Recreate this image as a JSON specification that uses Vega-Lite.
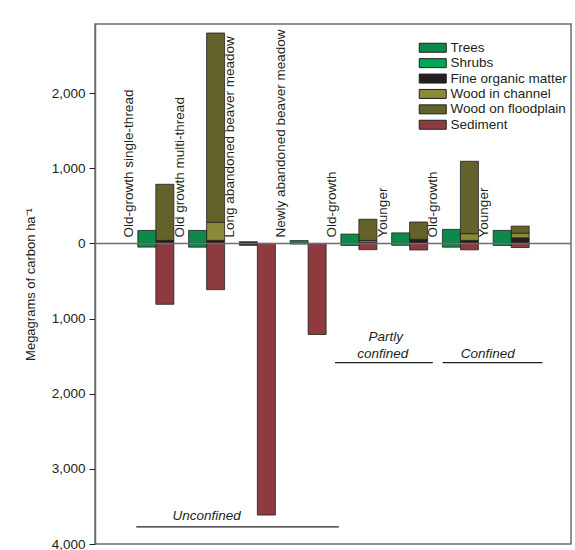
{
  "$schema": "https://vega.github.io/schema/vega-lite/v6.json",
  "width": 476,
  "height": 520,
  "autosize": "none",
  "padding": {"left": 95, "top": 24, "right": 4, "bottom": 6},
  "background": "white",
  "config": {
    "font": "Liberation Sans",
    "view": {"stroke": "#6d6e71", "strokeWidth": 1.5},
    "text": {"color": "#231f20"}
  },
  "datasets": {
    "bars": [
      {"site": 1, "bar": "A", "component": "Trees", "value": 173},
      {"site": 1, "bar": "A", "component": "Trees", "value": -49},
      {"site": 1, "bar": "B", "component": "Fine organic matter", "value": 40},
      {"site": 1, "bar": "B", "component": "Wood on floodplain", "value": 747},
      {"site": 1, "bar": "B", "component": "Sediment", "value": -810},
      {"site": 2, "bar": "A", "component": "Trees", "value": 173},
      {"site": 2, "bar": "A", "component": "Trees", "value": -50},
      {"site": 2, "bar": "B", "component": "Fine organic matter", "value": 40},
      {"site": 2, "bar": "B", "component": "Wood in channel", "value": 240},
      {"site": 2, "bar": "B", "component": "Wood on floodplain", "value": 2520},
      {"site": 2, "bar": "B", "component": "Sediment", "value": -615},
      {"site": 3, "bar": "A", "component": "Fine organic matter", "value": 22},
      {"site": 3, "bar": "A", "component": "Fine organic matter", "value": -25},
      {"site": 3, "bar": "B", "component": "Sediment", "value": -3615},
      {"site": 4, "bar": "A", "component": "Trees", "value": 38},
      {"site": 4, "bar": "A", "component": "Trees", "value": -8},
      {"site": 4, "bar": "B", "component": "Sediment", "value": -1212},
      {"site": 5, "bar": "A", "component": "Trees", "value": 124},
      {"site": 5, "bar": "A", "component": "Trees", "value": -27},
      {"site": 5, "bar": "B", "component": "Fine organic matter", "value": 15},
      {"site": 5, "bar": "B", "component": "Wood in channel", "value": 25},
      {"site": 5, "bar": "B", "component": "Wood on floodplain", "value": 282},
      {"site": 5, "bar": "B", "component": "Sediment", "value": -83},
      {"site": 6, "bar": "A", "component": "Trees", "value": 140},
      {"site": 6, "bar": "A", "component": "Trees", "value": -25},
      {"site": 6, "bar": "B", "component": "Fine organic matter", "value": 55},
      {"site": 6, "bar": "B", "component": "Wood on floodplain", "value": 230},
      {"site": 6, "bar": "B", "component": "Sediment", "value": -87},
      {"site": 7, "bar": "A", "component": "Trees", "value": 187},
      {"site": 7, "bar": "A", "component": "Trees", "value": -50},
      {"site": 7, "bar": "B", "component": "Fine organic matter", "value": 40},
      {"site": 7, "bar": "B", "component": "Wood in channel", "value": 90},
      {"site": 7, "bar": "B", "component": "Wood on floodplain", "value": 963},
      {"site": 7, "bar": "B", "component": "Sediment", "value": -85},
      {"site": 8, "bar": "A", "component": "Trees", "value": 173},
      {"site": 8, "bar": "A", "component": "Trees", "value": -27},
      {"site": 8, "bar": "B", "component": "Fine organic matter", "value": 75},
      {"site": 8, "bar": "B", "component": "Wood in channel", "value": 62},
      {"site": 8, "bar": "B", "component": "Wood on floodplain", "value": 93},
      {"site": 8, "bar": "B", "component": "Sediment", "value": -55}
    ],
    "labels": [
      {"site": 1, "label": "Old-growth single-thread"},
      {"site": 2, "label": "Old growth multi-thread"},
      {"site": 3, "label": "Long abandoned beaver meadow"},
      {"site": 4, "label": "Newly abandoned beaver meadow"},
      {"site": 5, "label": "Old-growth"},
      {"site": 6, "label": "Younger"},
      {"site": 7, "label": "Old-growth"},
      {"site": 8, "label": "Younger"}
    ],
    "groups": [
      {"x": 2.0, "y": -3627, "text": "Unconfined"},
      {"x": 5.53, "y": -1240, "text": "Partly"},
      {"x": 5.47, "y": -1467, "text": "confined"},
      {"x": 7.54, "y": -1467, "text": "Confined"}
    ],
    "lines": [
      {"x": 0.614, "x2": 4.606, "y": -3773},
      {"x": 4.529, "x2": 6.457, "y": -1587},
      {"x": 6.65, "x2": 8.617, "y": -1587}
    ]
  },
  "layer": [
    {
      "data": {"name": "bars"},
      "transform": [{"filter": "datum.bar == 'B'"}],
      "mark": {"type": "bar", "size": 18, "xOffset": 9, "stroke": "#231f20", "strokeWidth": 0.8},
      "encoding": {
        "x": {"field": "site", "type": "quantitative", "scale": {"domain": [-0.1, 9.08], "nice": false, "zero": false}, "axis": null},
        "y": {
          "field": "value", "type": "quantitative", "stack": "zero",
          "scale": {"domain": [-4000, 2920], "nice": false},
          "axis": {
            "values": [-4000, -3000, -2000, -1000, 0, 1000, 2000],
            "labelExpr": "format(abs(datum.value), ',')",
            "title": "Megagrams of carbon ha⁻¹",
            "grid": false,
            "tickSize": 6,
            "tickColor": "#231f20",
            "domainColor": "#6d6e71",
            "domainWidth": 1.5,
            "labelFontSize": 13.5,
            "labelColor": "#231f20",
            "labelPadding": 4,
            "titleFontSize": 13,
            "titleFontWeight": "normal",
            "titleColor": "#231f20",
            "titlePadding": 14
          }
        },
        "order": {"field": "component", "type": "nominal", "sort": "ascending"},
        "color": {
          "field": "component", "type": "nominal",
          "scale": {
            "domain": ["Trees", "Shrubs", "Fine organic matter", "Wood in channel", "Wood on floodplain", "Sediment"],
            "range": ["#0b8a4b", "#00a651", "#231f20", "#8a8a38", "#64622b", "#8e3b3f"]
          },
          "legend": {
            "orient": "none",
            "legendX": 331,
            "legendY": 17,
            "padding": 0,
            "title": null,
            "symbolType": "M-3,-1H3V1H-3Z",
            "symbolSize": 81,
            "symbolStrokeColor": "#231f20",
            "symbolStrokeWidth": 1,
            "symbolOpacity": 1,
            "labelOffset": 11,
            "labelFontSize": 13.5,
            "labelColor": "#231f20",
            "rowPadding": 0.4
          }
        }
      }
    },
    {
      "data": {"name": "bars"},
      "transform": [{"filter": "datum.bar == 'A'"}],
      "mark": {"type": "bar", "size": 18, "xOffset": -9, "stroke": "#231f20", "strokeWidth": 0.8},
      "encoding": {
        "x": {"field": "site", "type": "quantitative"},
        "y": {"field": "value", "type": "quantitative", "stack": "zero"},
        "color": {"field": "component", "type": "nominal"}
      }
    },
    {
      "data": {"values": [{}]},
      "mark": {"type": "rule", "color": "#6d6e71", "strokeWidth": 1.5},
      "encoding": {"y": {"datum": 0}}
    },
    {
      "data": {"name": "labels"},
      "mark": {"type": "text", "angle": 270, "align": "left", "baseline": "middle", "dx": 6, "dy": -27, "fontSize": 13.5, "color": "#231f20"},
      "encoding": {
        "x": {"field": "site", "type": "quantitative"},
        "y": {"datum": 0},
        "text": {"field": "label"}
      }
    },
    {
      "data": {"name": "groups"},
      "mark": {"type": "text", "fontStyle": "italic", "fontSize": 13.5, "align": "center", "baseline": "middle", "color": "#231f20"},
      "encoding": {
        "x": {"field": "x", "type": "quantitative"},
        "y": {"field": "y", "type": "quantitative"},
        "text": {"field": "text"}
      }
    },
    {
      "data": {"name": "lines"},
      "mark": {"type": "rule", "color": "#231f20", "strokeWidth": 1.2},
      "encoding": {
        "x": {"field": "x", "type": "quantitative"},
        "x2": {"field": "x2"},
        "y": {"field": "y", "type": "quantitative"}
      }
    }
  ]
}
